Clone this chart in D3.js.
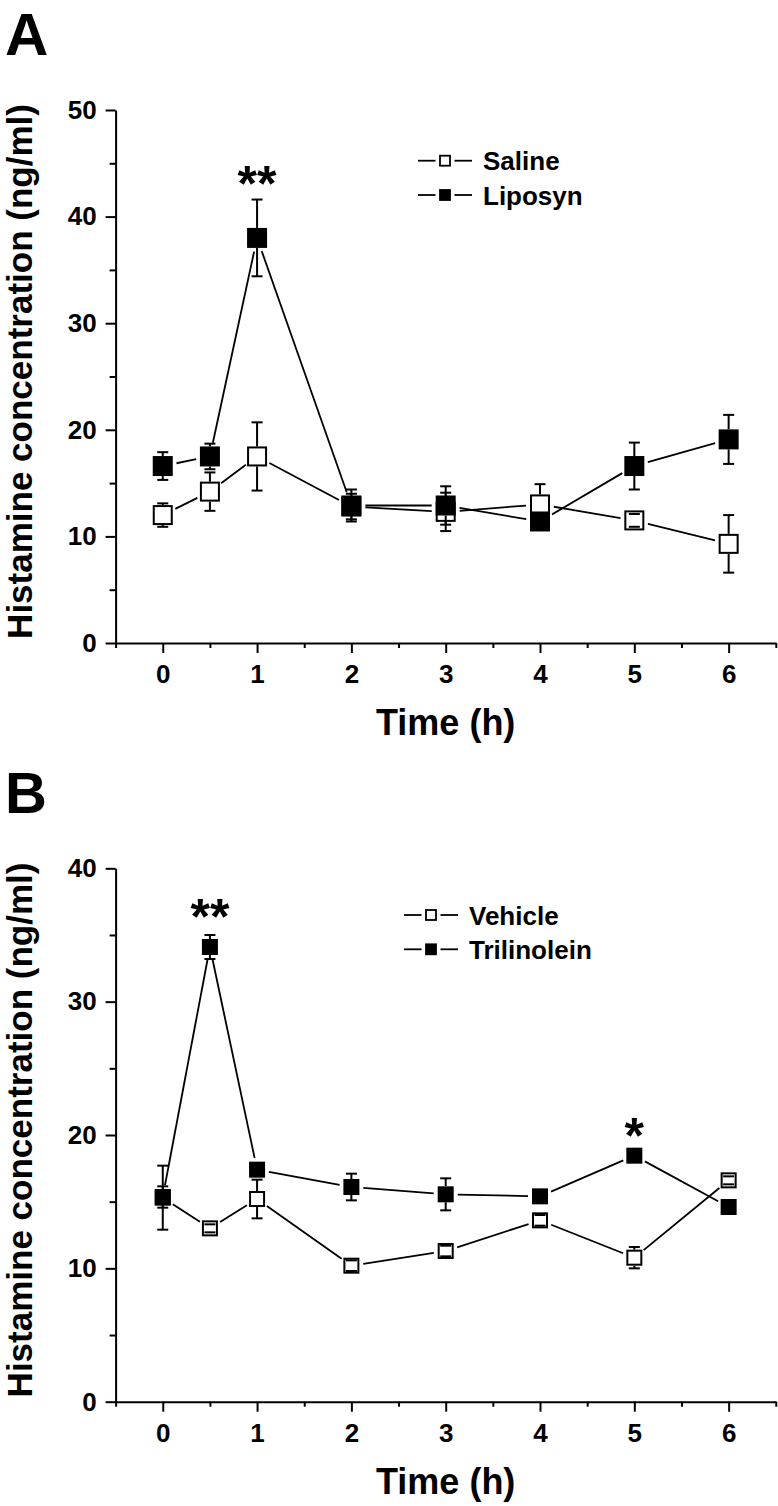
<!DOCTYPE html>
<html>
<head>
<meta charset="utf-8">
<script src="https://cdn.jsdelivr.net/npm/d3@7"></script>
<style>
  body { margin: 0; background: #fff; }
  svg { display: block; }
</style>
</head>
<body>
<div id="chart"></div>
<script>
// sampling times (h)
const times = [0, 0.5, 1, 2, 3, 4, 5, 6];
const xTicks = [0, 1, 2, 3, 4, 5, 6];

// panel A
const salineMean = [12.0, 14.2, 17.5, 12.8, 12.3, 13.0, 11.5, 9.3];
const salineErr = [1.1, 1.8, 3.2, 1.2, 1.8, 1.9, 0.6, 2.7];
const liposynMean = [16.6, 17.5, 38.0, 12.9, 12.9, 11.4, 16.6, 19.1];
const liposynErr = [1.3, 1.2, 3.6, 1.5, 1.8, 0.6, 2.2, 2.3];
const yTicksA = [0, 10, 20, 30, 40, 50];
const starsA = [{ t: 1, y: 43.5, label: "**" }];

// panel B
const vehicleMean = [15.3, 13.0, 15.2, 10.2, 11.3, 13.6, 10.8, 16.6];
const vehicleErr = [2.4, 0.3, 1.45, 0.4, 0.4, 0.4, 0.8, 0.3];
const trilinoleinMean = [15.35, 34.1, 17.4, 16.1, 15.55, 15.4, 18.45, 14.6];
const trilinoleinErr = [0.8, 0.9, 0.4, 1.0, 1.2, 0.3, 0.4, 0.3];
const yTicksB = [0, 10, 20, 30, 40];
const starsB = [{ t: 0.5, y: 36.7, label: "**" }, { t: 5, y: 20.3, label: "*" }];

const FONT = "'Liberation Sans', Arial, Helvetica, sans-serif";
const WIDTH = 778;
const HEIGHT = 1506;

const svg = d3.select("#chart").append("svg")
  .attr("width", WIDTH)
  .attr("height", HEIGHT)
  .style("font-family", FONT)
  .style("font-weight", "bold");

const X_SCALE = d3.scaleLinear().domain([-0.5, 6.5]).range([115.6, 775.8]);

const panels = [
  {
    letter: "A", letterY: 55, letterSize: 60,
    yMax: 50, yTicks: yTicksA, top: 110, bottom: 643, sym: 20,
    series: [
      { name: "Saline", mean: salineMean, err: salineErr, fill: "#fff" },
      { name: "Liposyn", mean: liposynMean, err: liposynErr, fill: "#000" }
    ],
    legend: { x: 418, y: 160.7 },
    stars: starsA
  },
  {
    letter: "B", letterY: 813, letterSize: 58,
    yMax: 40, yTicks: yTicksB, top: 868.3, bottom: 1401.7, sym: 16,
    series: [
      { name: "Vehicle", mean: vehicleMean, err: vehicleErr, fill: "#fff" },
      { name: "Trilinolein", mean: trilinoleinMean, err: trilinoleinErr, fill: "#000" }
    ],
    legend: { x: 404, y: 915 },
    stars: starsB
  }
];

panels.forEach((p) => {
  const Y_SCALE = d3.scaleLinear().domain([0, p.yMax]).range([p.bottom, p.top]);
  const g = svg.append("g");

  // panel letter
  g.append("text")
    .attr("x", 5)
    .attr("y", p.letterY)
    .attr("font-size", p.letterSize)
    .text(p.letter);

  // y axis: minor ticks then major ticks with labels
  const minorY = d3.range(5, p.yMax, 10);
  g.append("g")
    .attr("transform", "translate(" + X_SCALE(-0.5) + ",0)")
    .call(d3.axisLeft(Y_SCALE).tickValues(minorY).tickSize(6).tickFormat(""))
    .call((a) => a.select(".domain").remove());
  g.append("g")
    .attr("transform", "translate(" + X_SCALE(-0.5) + ",0)")
    .call(d3.axisLeft(Y_SCALE).tickValues(p.yTicks).tickFormat(d3.format("d")).tickSize(10).tickSizeOuter(0).tickPadding(9))
    .attr("font-size", 26)
    .attr("font-family", FONT);

  // x axis
  const minorX = d3.range(-0.5, 7, 1);
  g.append("g")
    .attr("transform", "translate(0," + p.bottom + ")")
    .call(d3.axisBottom(X_SCALE).tickValues(minorX).tickSize(5).tickFormat(""))
    .call((a) => a.select(".domain").remove());
  g.append("g")
    .attr("transform", "translate(0," + p.bottom + ")")
    .call(d3.axisBottom(X_SCALE).tickValues(xTicks).tickFormat(d3.format("d")).tickSize(10).tickSizeOuter(0).tickPadding(12))
    .attr("font-size", 26)
    .attr("font-family", FONT);

  g.selectAll(".domain, .tick line").attr("stroke", "#000").attr("stroke-width", 2);
  g.selectAll(".tick text").attr("fill", "#000").attr("font-weight", "bold");

  // axis titles
  g.append("text")
    .attr("x", (X_SCALE(-0.5) + X_SCALE(6.5)) / 2)
    .attr("y", p.bottom + 92)
    .attr("text-anchor", "middle")
    .attr("font-size", 36)
    .text("Time (h)");
  g.append("text")
    .attr("transform", "translate(32," + ((p.top + p.bottom) / 2 - 5) + ") rotate(-90)")
    .attr("text-anchor", "middle")
    .attr("font-size", 35)
    .text("Histamine concentration (ng/ml)");

  const half = p.sym / 2;
  const cap = 5.5;

  p.series.forEach((s) => {
    const pts = times.map((t, i) => ({ x: X_SCALE(t), y: Y_SCALE(s.mean[i]), hi: Y_SCALE(s.mean[i] + s.err[i]), lo: Y_SCALE(s.mean[i] - s.err[i]) }));

    // connecting lines, with a gap around each symbol
    const segs = d3.pairs(pts).map(([a, b]) => {
      const dx = b.x - a.x, dy = b.y - a.y;
      const len = Math.hypot(dx, dy);
      const gap = half + 4;
      return { x1: a.x + dx / len * gap, y1: a.y + dy / len * gap, x2: b.x - dx / len * gap, y2: b.y - dy / len * gap };
    });
    g.selectAll(null).data(segs).enter().append("line")
      .attr("x1", (d) => d.x1).attr("y1", (d) => d.y1)
      .attr("x2", (d) => d.x2).attr("y2", (d) => d.y2)
      .attr("stroke", "#000").attr("stroke-width", 1.8);

    // error stems outside the symbol
    g.selectAll(null).data(pts.filter((d) => d.hi < d.y - half)).enter().append("line")
      .attr("x1", (d) => d.x).attr("x2", (d) => d.x)
      .attr("y1", (d) => d.hi).attr("y2", (d) => d.y - half)
      .attr("stroke", "#000").attr("stroke-width", 2);
    g.selectAll(null).data(pts.filter((d) => d.lo > d.y + half)).enter().append("line")
      .attr("x1", (d) => d.x).attr("x2", (d) => d.x)
      .attr("y1", (d) => d.lo).attr("y2", (d) => d.y + half)
      .attr("stroke", "#000").attr("stroke-width", 2);

    // squares
    g.selectAll(null).data(pts).enter().append("rect")
      .attr("x", (d) => d.x - half + 1)
      .attr("y", (d) => d.y - half + 1)
      .attr("width", p.sym - 2)
      .attr("height", p.sym - 2)
      .attr("fill", s.fill)
      .attr("stroke", "#000")
      .attr("stroke-width", 2);

    // caps
    ["hi", "lo"].forEach((k) => {
      g.selectAll(null).data(pts).enter().append("line")
        .attr("x1", (d) => d.x - cap).attr("x2", (d) => d.x + cap)
        .attr("y1", (d) => d[k]).attr("y2", (d) => d[k])
        .attr("stroke", "#000").attr("stroke-width", 2);
    });
  });

  // legend: line - symbol - line, then label
  const leg = g.append("g").attr("transform", "translate(" + p.legend.x + "," + p.legend.y + ")");
  p.series.forEach((s, i) => {
    const row = leg.append("g").attr("transform", "translate(0," + i * 34.3 + ")");
    [[0, 17.5], [36.5, 54]].forEach(([a, b]) => {
      row.append("line").attr("x1", a).attr("x2", b).attr("y1", 0).attr("y2", 0)
        .attr("stroke", "#000").attr("stroke-width", 1.8);
    });
    row.append("rect").attr("x", 22).attr("y", -5).attr("width", 10).attr("height", 10)
      .attr("fill", s.fill).attr("stroke", "#000").attr("stroke-width", 1.8);
    row.append("text").attr("x", 65).attr("y", 9.5).attr("font-size", 26).text(s.name);
  });

  // significance marks
  g.selectAll(null).data(p.stars).enter().append("text")
    .attr("x", (d) => X_SCALE(d.t))
    .attr("y", (d) => Y_SCALE(d.y) + 0.437 * 50)
    .attr("text-anchor", "middle")
    .attr("font-size", 50)
    .text((d) => d.label);
});
</script>
</body>
</html>
